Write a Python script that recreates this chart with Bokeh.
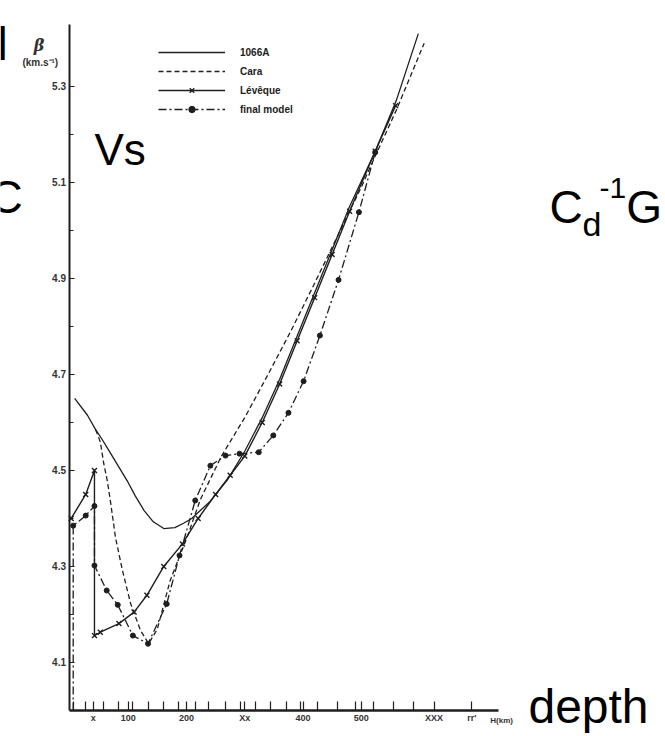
from bokeh.plotting import figure
from bokeh.models import FixedTicker, Legend, LegendItem, Label, Range1d
from bokeh.embed import file_html
from bokeh.resources import INLINE

# ---- data (depth in km, S-wave velocity beta in km/s) ----
depth_1066a = [8, 30, 44, 55, 70, 85, 98, 112, 127, 143, 161, 180, 195, 209, 240, 270, 300,
               330, 360, 390, 420, 450, 480, 524, 560, 598]
beta_1066a = [4.65, 4.615, 4.585, 4.565, 4.535, 4.505, 4.479, 4.447, 4.417, 4.393, 4.379,
              4.381, 4.39, 4.40, 4.435, 4.48, 4.54, 4.61, 4.69, 4.78, 4.87, 4.96, 5.05,
              5.165, 5.27, 5.41]

depth_cara = [44, 52, 58, 64, 70, 78, 90, 104, 121, 135, 150, 172, 201, 224, 260, 300, 340,
              379, 420, 460, 500, 524, 560, 608]
beta_cara = [4.585, 4.56, 4.514, 4.479, 4.431, 4.361, 4.292, 4.223, 4.167, 4.139, 4.17,
             4.271, 4.361, 4.44, 4.53, 4.61, 4.70, 4.79, 4.89, 4.99, 5.09, 5.155, 5.25, 5.39]

depth_leveque = [2, 27, 42, 42, 52, 84, 110, 132, 161, 193, 220, 250, 275, 300, 330, 360,
                 390, 420, 450, 480, 524, 559]
beta_leveque = [4.40, 4.45, 4.50, 4.156, 4.163, 4.181, 4.205, 4.24, 4.30, 4.347, 4.40, 4.45,
                4.49, 4.53, 4.60, 4.68, 4.77, 4.86, 4.95, 5.04, 5.165, 5.26]

depth_final = [5.5, 5.5, 27, 42, 42, 63, 82, 108, 134, 166, 188, 215, 241, 267, 291, 324,
               349, 375, 401, 429, 461, 496, 524]
beta_final = [4.0, 4.385, 4.406, 4.426, 4.302, 4.25, 4.22, 4.156, 4.139, 4.222, 4.323,
              4.4375, 4.51, 4.531, 4.535, 4.538, 4.573, 4.62, 4.686, 4.781, 4.897, 5.038, 5.163]

y_ticks = [4.1, 4.3, 4.5, 4.7, 4.9, 5.1, 5.3]
y_minor = [4.2, 4.4, 4.6, 4.8, 5.0, 5.2]
x_ticks = [40, 100, 200, 300, 400, 500, 625, 690]
x_tick_labels = {40: "x", 100: "100", 200: "200", 300: "Xx", 400: "400", 500: "500",
                 625: "XXX", 690: "rr'"}
x_minor = [6, 27, 58, 83, 107, 135, 160, 186, 215, 238, 267, 293, 318, 344, 372, 396, 425,
           459, 490, 521, 556, 590]

ink = "#1e1e1e"
scan_font = "Liberation Sans"

# frame covers the whole page; the axes are pinned inside it
p = figure(width=665, height=736, output_backend="svg", toolbar_location=None,
           x_range=Range1d(-119.3, 1022.3), y_range=Range1d(3.9458, 5.479),
           min_border_left=0, min_border_right=0, min_border_top=0, min_border_bottom=0)
p.outline_line_color = None
p.xgrid.visible = False
p.ygrid.visible = False
p.background_fill_color = "white"
p.border_fill_color = "white"

# axes
xa = p.xaxis[0]
xa.fixed_location = 4.0
xa.ticker = FixedTicker(ticks=x_ticks, minor_ticks=x_minor)
xa.major_label_overrides = x_tick_labels
xa.bounds = (0, 735)
xa.axis_line_width = 2.5
xa.axis_line_color = ink
xa.major_tick_in = 9
xa.major_tick_out = 0
xa.minor_tick_in = 9
xa.minor_tick_out = 0
xa.major_tick_line_color = ink
xa.minor_tick_line_color = ink
xa.major_tick_line_width = 1.2
xa.minor_tick_line_width = 1.2
xa.major_label_text_font = scan_font
xa.major_label_text_font_style = "bold"
xa.major_label_text_font_size = "9px"
xa.major_label_text_color = "#333"
xa.major_label_standoff = 3

ya = p.yaxis[0]
ya.fixed_location = 0
ya.ticker = FixedTicker(ticks=y_ticks, minor_ticks=y_minor)
ya.bounds = (4.0, 5.43)
ya.axis_line_width = 2
ya.axis_line_color = ink
ya.major_tick_in = 5
ya.major_tick_out = 0
ya.minor_tick_in = 4
ya.minor_tick_out = 0
ya.major_tick_line_color = ink
ya.minor_tick_line_color = ink
ya.major_label_text_font = scan_font
ya.major_label_text_font_style = "bold"
ya.major_label_text_font_size = "10px"
ya.major_label_text_color = "#333"
ya.major_label_standoff = 4

# curves
r1 = p.line(depth_1066a, beta_1066a, line_color=ink, line_width=1.3)
r2 = p.line(depth_cara, beta_cara, line_color=ink, line_width=1.3, line_dash="5 3")
r3 = p.line(depth_leveque, beta_leveque, line_color=ink, line_width=1.4)
r3m = p.scatter(depth_leveque, beta_leveque, marker="x", size=7, line_color=ink, line_width=1.4)
r4 = p.line(depth_final, beta_final, line_color=ink, line_width=1.3, line_dash="8 3 2 3")
r4m = p.scatter(depth_final[1:], beta_final[1:], marker="circle", size=5,
                fill_color=ink, line_color=ink)

legend = Legend(items=[
    LegendItem(label="1066A", renderers=[r1]),
    LegendItem(label="Cara", renderers=[r2]),
    LegendItem(label="Lévêque", renderers=[r3, r3m]),
    LegendItem(label="final model", renderers=[r4, r4m]),
], location="top_left")
legend.background_fill_alpha = 0
legend.border_line_color = None
legend.padding = 0
legend.margin = 0
legend.spacing = 3
legend.glyph_width = 67
legend.glyph_height = 16
legend.label_height = 16
legend.label_standoff = 15
legend.label_text_font = scan_font
legend.label_text_font_style = "bold"
legend.label_text_font_size = "10px"
legend.label_text_color = "#222"
p.add_layout(legend)
legend.location = (158, 736 - 44 - 73)

def add_label(text, x, y, size, style="normal", font=scan_font, align="left",
              baseline="alphabetic", color="black"):
    p.add_layout(Label(x=x, y=y, text=text, text_font=font, text_font_size=size,
                       text_font_style=style, text_align=align, text_baseline=baseline,
                       text_color=color))

# axis annotations of the scanned figure
add_label("β", -53, 5.385, "16px", style="bold italic", font="DejaVu Serif",
          align="center", baseline="middle", color="#333")
add_label("(km.s⁻¹)", -51, 5.35, "10px", style="bold", align="center", baseline="middle",
          color="#333")
add_label("H(km)", 741, 3.979, "8px", style="bold", align="center", baseline="middle",
          color="#333")

# overlaid slide texts
add_label("Vs", 42, 5.168, "44px")
add_label("depth", 787, 4.0088, "48px")
add_label("C", 823, 5.0488, "46px")
add_label("d", 880, 5.0137, "34px")
add_label("-1", 909, 5.0875, "30px")
add_label("G", 955, 5.0488, "46px")
add_label("C", -138, 5.0696, "46px")
add_label("l", -124.5, 5.3883, "46px")

open("out.html", "w").write(file_html(p, INLINE))
